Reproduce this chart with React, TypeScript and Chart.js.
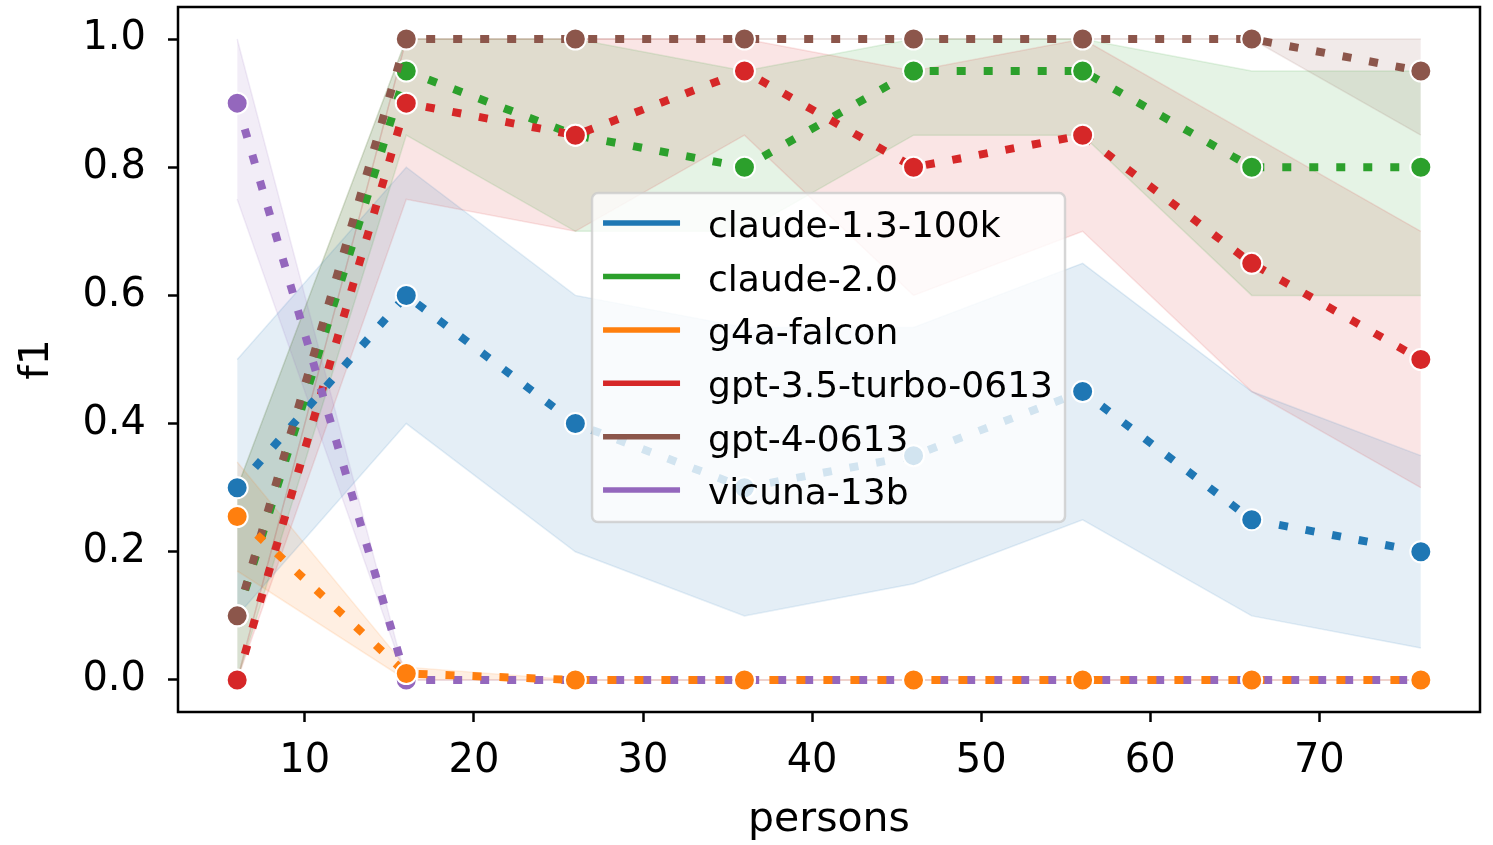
import React, { useEffect, useRef } from 'react';
import { Chart, registerables } from 'chart.js';

Chart.register(...registerables);

const persons = [6, 16, 26, 36, 46, 56, 66, 76];
const xTicks = [10, 20, 30, 40, 50, 60, 70];
const yTicks = [0, 0.2, 0.4, 0.6, 0.8, 1.0];

const seriesNames = ['claude-1.3-100k', 'claude-2.0', 'g4a-falcon', 'gpt-3.5-turbo-0613', 'gpt-4-0613', 'vicuna-13b'];
const seriesColors = ['#1f77b4', '#2ca02c', '#ff7f0e', '#d62728', '#8c564b', '#9467bd'];

const claude13Mean = [0.3, 0.6, 0.4, 0.3, 0.35, 0.45, 0.25, 0.2];
const claude13Low = [0.1, 0.4, 0.2, 0.1, 0.15, 0.25, 0.1, 0.05];
const claude13High = [0.5, 0.8, 0.6, 0.55, 0.55, 0.65, 0.45, 0.35];

const claude2Mean = [0.1, 0.95, 0.85, 0.8, 0.95, 0.95, 0.8, 0.8];
const claude2Low = [0.0, 0.85, 0.7, 0.7, 0.85, 0.85, 0.6, 0.6];
const claude2High = [0.3, 1.0, 1.0, 0.95, 1.0, 1.0, 0.95, 0.95];

const falconMean = [0.255, 0.01, 0, 0, 0, 0, 0, 0];
const falconLow = [0.17, 0.0, 0, 0, 0, 0, 0, 0];
const falconHigh = [0.34, 0.02, 0, 0, 0, 0, 0, 0];

const gpt35Mean = [0.0, 0.9, 0.85, 0.95, 0.8, 0.85, 0.65, 0.5];
const gpt35Low = [0.0, 0.75, 0.7, 0.85, 0.6, 0.7, 0.45, 0.3];
const gpt35High = [0.0, 1.0, 1.0, 1.0, 0.95, 1.0, 0.85, 0.7];

const gpt4Mean = [0.1, 1.0, 1.0, 1.0, 1.0, 1.0, 1.0, 0.95];
const gpt4Low = [0.0, 1.0, 1.0, 1.0, 1.0, 1.0, 1.0, 0.85];
const gpt4High = [0.3, 1.0, 1.0, 1.0, 1.0, 1.0, 1.0, 1.0];

const vicunaMean = [0.9, 0.0, 0, 0, 0, 0, 0, 0];
const vicunaLow = [0.75, 0.0, 0, 0, 0, 0, 0, 0];
const vicunaHigh = [1.0, 0.0, 0, 0, 0, 0, 0, 0];

const means = [claude13Mean, claude2Mean, falconMean, gpt35Mean, gpt4Mean, vicunaMean];
const lows = [claude13Low, claude2Low, falconLow, gpt35Low, gpt4Low, vicunaLow];
const highs = [claude13High, claude2High, falconHigh, gpt35High, gpt4High, vicunaHigh];
// lower value = drawn on top
const lineOrder = [6, 5, 1, 4, 3, 2];

const FONT = "'DejaVu Sans', sans-serif";

function rgba(hex: string, a: number) {
  const n = parseInt(hex.slice(1), 16);
  return `rgba(${(n >> 16) & 255},${(n >> 8) & 255},${n & 255},${a})`;
}

const pts = (vals: number[]) => persons.map((x, i) => ({ x, y: vals[i] }));

const framePlugin = {
  id: 'frame',
  afterDatasetsDraw(chart: any) {
    const { ctx, chartArea } = chart;
    ctx.save();
    ctx.strokeStyle = '#000';
    ctx.lineWidth = 2.5;
    ctx.strokeRect(chartArea.left, chartArea.top, chartArea.right - chartArea.left, chartArea.bottom - chartArea.top);
    ctx.restore();
  },
};

const legendPlugin = {
  id: 'customLegend',
  afterDatasetsDraw(chart: any) {
    const { ctx, chartArea } = chart;
    const w = chartArea.right - chartArea.left;
    const h = chartArea.bottom - chartArea.top;
    const bx = chartArea.left + 0.318 * w;
    const by = chartArea.top + 0.264 * h;
    const bw = 473;
    const bh = 329;
    ctx.save();
    ctx.beginPath();
    ctx.roundRect(bx, by, bw, bh, 6);
    ctx.fillStyle = 'rgba(255,255,255,0.8)';
    ctx.fill();
    ctx.strokeStyle = 'rgba(204,204,204,0.8)';
    ctx.lineWidth = 2.5;
    ctx.stroke();
    ctx.font = `36px ${FONT}`;
    ctx.textBaseline = 'alphabetic';
    ctx.textAlign = 'left';
    seriesNames.forEach((name, i) => {
      const cy = by + 30 + i * 53.4;
      ctx.strokeStyle = seriesColors[i];
      ctx.lineWidth = 5.5;
      ctx.lineCap = 'butt';
      ctx.beginPath();
      ctx.moveTo(bx + 11, cy);
      ctx.lineTo(bx + 88, cy);
      ctx.stroke();
      ctx.fillStyle = '#000';
      ctx.fillText(name, bx + 116, cy + 14);
    });
    ctx.restore();
  },
};

export default function App() {
  const canvasRef = useRef<HTMLCanvasElement | null>(null);

  useEffect(() => {
    document.body.style.margin = '0';
    const canvas = canvasRef.current;
    if (!canvas) return;

    const datasets: any[] = [];
    seriesNames.forEach((name, i) => {
      const c = seriesColors[i];
      datasets.push({
        label: name + ' high',
        data: pts(highs[i]),
        borderColor: rgba(c, 0.12),
        backgroundColor: rgba(c, 0.12),
        borderWidth: 1.5,
        pointRadius: 0,
        fill: '+1',
        order: 20,
        tension: 0,
      });
      datasets.push({
        label: name + ' low',
        data: pts(lows[i]),
        borderColor: rgba(c, 0.12),
        backgroundColor: rgba(c, 0.12),
        borderWidth: 1.5,
        pointRadius: 0,
        fill: false,
        order: 20,
        tension: 0,
      });
    });
    seriesNames.forEach((name, i) => {
      const c = seriesColors[i];
      datasets.push({
        label: name,
        data: pts(means[i]),
        borderColor: c,
        backgroundColor: c,
        borderWidth: 8,
        borderDash: [9, 18],
        borderCapStyle: 'butt',
        pointRadius: 10.5,
        pointBorderColor: '#ffffff',
        pointBorderWidth: 2,
        pointBackgroundColor: c,
        fill: false,
        order: lineOrder[i],
        tension: 0,
      });
    });

    const chart = new Chart(canvas, {
      type: 'line',
      data: { datasets },
      options: {
        responsive: false,
        animation: false,
        events: [],
        layout: { autoPadding: false, padding: { top: 7, right: 13, left: 0, bottom: 0 } },
        plugins: {
          legend: { display: false },
          tooltip: { enabled: false },
          filler: { drawTime: 'beforeDatasetsDraw' },
        },
        scales: {
          x: {
            type: 'linear',
            min: 2.5,
            max: 79.5,
            afterBuildTicks: (s: any) => {
              s.ticks = xTicks.map((v) => ({ value: v }));
            },
            afterFit: (s: any) => {
              s.height = 133;
              s.paddingLeft = 0;
              s.paddingRight = 0;
              s.paddingTop = 0;
              s.paddingBottom = 0;
            },
            ticks: {
              color: '#000',
              font: { family: FONT, size: 40 },
              padding: 16,
              maxRotation: 0,
              autoSkip: false,
              callback: (v: any) => String(v),
            },
            grid: {
              display: true,
              drawOnChartArea: false,
              drawTicks: true,
              tickLength: 10,
              tickColor: '#000',
              tickWidth: 2.5,
            },
            border: { display: false },
            title: {
              display: true,
              text: 'persons',
              color: '#000',
              font: { family: FONT, size: 41 },
              padding: { top: 0, bottom: 0 },
            },
          },
          y: {
            type: 'linear',
            min: -0.05,
            max: 1.05,
            afterBuildTicks: (s: any) => {
              s.ticks = yTicks.map((v) => ({ value: v }));
            },
            afterFit: (s: any) => {
              s.width = 178;
              s.paddingLeft = 0;
              s.paddingRight = 0;
              s.paddingTop = 0;
              s.paddingBottom = 0;
            },
            ticks: {
              color: '#000',
              font: { family: FONT, size: 40 },
              padding: 22,
              autoSkip: false,
              callback: (v: any) => Number(v).toFixed(1),
            },
            grid: {
              display: true,
              drawOnChartArea: false,
              drawTicks: true,
              tickLength: 10,
              tickColor: '#000',
              tickWidth: 2.5,
            },
            border: { display: false },
            title: {
              display: true,
              text: 'f1',
              color: '#000',
              font: { family: FONT, size: 41 },
              padding: { top: 13, bottom: 0 },
            },
          },
        },
      },
      plugins: [framePlugin, legendPlugin],
    });

    return () => {
      chart.destroy();
    };
  }, []);

  return (
    <div style={{ width: 1493, height: 845 }}>
      <canvas ref={canvasRef} width={1493} height={845} style={{ display: 'block' }} />
    </div>
  );
}
